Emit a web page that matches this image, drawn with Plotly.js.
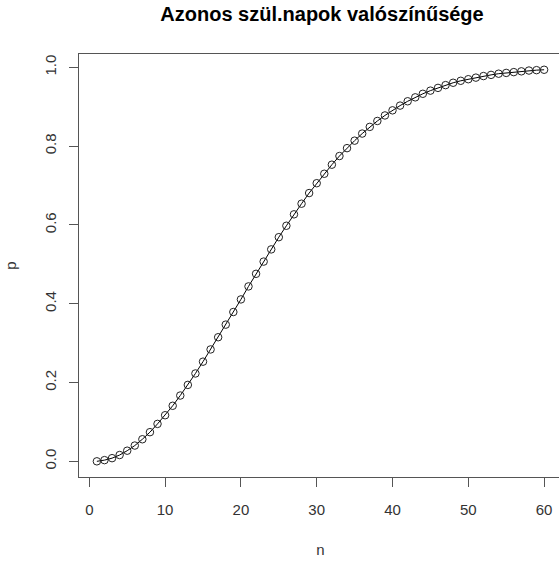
<!DOCTYPE html>
<html><head><meta charset="utf-8">
<script src="https://cdn.plot.ly/plotly-3.0.1.min.js"></script>
<style>html,body{margin:0;padding:0;overflow:hidden;background:#fff}</style>
</head><body><div id="chart"></div>
<script>
const n = [1,2,3,4,5,6,7,8,9,10,11,12,13,14,15,16,17,18,19,20,21,22,23,24,25,26,27,28,29,30,
  31,32,33,34,35,36,37,38,39,40,41,42,43,44,45,46,47,48,49,50,51,52,53,54,55,56,57,58,59,60];
const p = [0.000,0.003,0.008,0.016,0.027,0.040,0.056,0.074,0.095,0.117,
  0.141,0.167,0.194,0.223,0.253,0.284,0.315,0.347,0.379,0.411,
  0.444,0.476,0.507,0.538,0.569,0.598,0.627,0.654,0.681,0.706,
  0.730,0.753,0.775,0.795,0.814,0.832,0.849,0.864,0.878,0.891,
  0.903,0.914,0.924,0.933,0.941,0.948,0.955,0.961,0.966,0.970,
  0.974,0.978,0.981,0.984,0.986,0.988,0.990,0.992,0.993,0.994];
const xTicks = [0,10,20,30,40,50,60];
const yTicks = [0,0.2,0.4,0.6,0.8,1.0];
const yTickText = ['0.0','0.2','0.4','0.6','0.8','1.0'];

const font = {family:'Liberation Sans, Arial, sans-serif', size:15, color:'#333'};
Plotly.newPlot('chart', [{
  x: n, y: p, type:'scatter', mode:'lines+markers',
  line:{color:'#000', width:1},
  marker:{symbol:'circle-open', size:7.5, color:'#222', line:{width:1}}
}], {
  width:562, height:562,
  margin:{l:79, r:0, t:54, b:85},
  paper_bgcolor:'#fff', plot_bgcolor:'#fff',
  showlegend:false,
  font: font,
  title:{text:'<b>Azonos szül.napok valószínűsége</b>', xref:'container', yref:'container',
    x:0.573, xanchor:'center', y:0.975, yanchor:'middle',
    font:{family:'Liberation Sans, Arial, sans-serif', size:20, color:'#000'}},
  xaxis:{range:[-1.36,62.36], tickvals:xTicks, ticktext:xTicks.map(String),
    showgrid:false, zeroline:false, showline:true, mirror:true, linecolor:'#555', linewidth:1,
    ticks:'outside', ticklen:9, tickcolor:'#555', ticklabelstandoff:10,
    title:{text:'n', standoff:27, font:{size:15, color:'#333'}}},
  yaxis:{range:[-0.0398,1.034], tickvals:yTicks, ticktext:yTickText, tickangle:-90,
    showgrid:false, zeroline:false, showline:true, mirror:true, linecolor:'#555', linewidth:1,
    ticks:'outside', ticklen:9, tickcolor:'#555', ticklabelstandoff:7,
    title:{text:'p', standoff:21, font:{size:15, color:'#333'}}}
}, {displayModeBar:false, staticPlot:true});
</script></body></html>
